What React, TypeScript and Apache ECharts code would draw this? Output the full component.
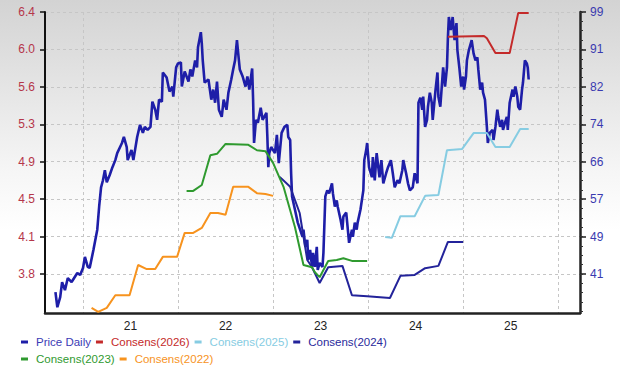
import React, { useEffect, useRef } from "react";
import * as echarts from "echarts";

// Price (left axis) — [decimal year, price]
const priceDaily: [number, number][] = [
  [2020.21, 3.62], [2020.23, 3.47], [2020.26, 3.57], [2020.28, 3.72], [2020.31, 3.64], [2020.34, 3.76],
  [2020.38, 3.72], [2020.44, 3.81], [2020.47, 3.79], [2020.5, 3.86], [2020.52, 3.97], [2020.55, 3.87],
  [2020.57, 3.86], [2020.61, 4.04], [2020.65, 4.24], [2020.67, 4.47], [2020.69, 4.66], [2020.71, 4.73],
  [2020.73, 4.83], [2020.75, 4.71], [2020.78, 4.78], [2020.81, 4.86], [2020.84, 4.93], [2020.86, 5.0],
  [2020.91, 5.1], [2020.93, 5.16], [2020.96, 5.06], [2020.97, 4.93], [2021.01, 5.03], [2021.03, 4.93],
  [2021.07, 5.16], [2021.1, 5.28], [2021.13, 5.2], [2021.15, 5.26], [2021.18, 5.23], [2021.21, 5.26],
  [2021.23, 5.51], [2021.26, 5.43], [2021.28, 5.33], [2021.3, 5.53], [2021.33, 5.51], [2021.34, 5.8],
  [2021.38, 5.75], [2021.41, 5.61], [2021.44, 5.66], [2021.45, 5.56], [2021.48, 5.85], [2021.5, 5.89],
  [2021.53, 5.9], [2021.54, 5.66], [2021.57, 5.81], [2021.61, 5.71], [2021.63, 5.83], [2021.65, 5.76],
  [2021.68, 5.92], [2021.7, 5.85], [2021.71, 6.05], [2021.74, 6.2], [2021.75, 6.09], [2021.76, 5.92],
  [2021.78, 5.7], [2021.82, 5.73], [2021.85, 5.53], [2021.87, 5.63], [2021.89, 5.5], [2021.91, 5.71],
  [2021.93, 5.43], [2021.96, 5.36], [2021.98, 5.53], [2022.01, 5.43], [2022.03, 5.6], [2022.06, 5.73],
  [2022.08, 5.83], [2022.1, 5.92], [2022.12, 6.12], [2022.13, 6.02], [2022.15, 5.83], [2022.18, 5.76],
  [2022.21, 5.66], [2022.23, 5.76], [2022.25, 5.63], [2022.28, 5.84], [2022.29, 5.53], [2022.3, 5.1],
  [2022.32, 5.33], [2022.34, 5.3], [2022.37, 5.45], [2022.39, 5.33], [2022.43, 5.4], [2022.44, 5.16],
  [2022.45, 4.86], [2022.46, 5.0], [2022.48, 5.06], [2022.5, 5.03], [2022.52, 5.0], [2022.54, 5.18],
  [2022.56, 4.9], [2022.59, 5.2], [2022.62, 5.26], [2022.65, 5.28], [2022.66, 5.16], [2022.68, 5.13],
  [2022.69, 4.8], [2022.7, 4.57], [2022.73, 4.44], [2022.76, 4.31], [2022.81, 4.17], [2022.82, 4.24],
  [2022.84, 4.07], [2022.86, 4.14], [2022.87, 3.94], [2022.89, 4.04], [2022.91, 3.87], [2022.92, 4.01],
  [2022.94, 3.87], [2022.96, 4.07], [2022.97, 3.84], [2022.99, 3.91], [2023.02, 3.87], [2023.03, 4.01],
  [2023.05, 4.57], [2023.07, 4.63], [2023.09, 4.6], [2023.12, 4.7], [2023.13, 4.6], [2023.15, 4.47],
  [2023.17, 4.53], [2023.18, 4.47], [2023.21, 4.34], [2023.23, 4.24], [2023.24, 4.37], [2023.27, 4.41],
  [2023.28, 4.31], [2023.3, 4.11], [2023.33, 4.24], [2023.34, 4.17], [2023.36, 4.31], [2023.38, 4.24],
  [2023.39, 4.31], [2023.42, 4.44], [2023.45, 4.63], [2023.46, 4.93], [2023.48, 5.03], [2023.49, 5.1],
  [2023.51, 4.86], [2023.54, 4.76], [2023.55, 4.96], [2023.57, 4.73], [2023.59, 5.0], [2023.62, 4.76],
  [2023.64, 4.93], [2023.66, 4.7], [2023.69, 4.8], [2023.71, 4.86], [2023.74, 4.93], [2023.76, 4.8],
  [2023.78, 4.66], [2023.81, 4.73], [2023.83, 4.7], [2023.86, 4.83], [2023.87, 4.93], [2023.9, 4.8],
  [2023.92, 4.7], [2023.94, 4.63], [2023.97, 4.66], [2023.99, 4.8], [2024.02, 4.7], [2024.03, 5.5],
  [2024.05, 5.55], [2024.07, 5.43], [2024.08, 5.56], [2024.1, 5.26], [2024.12, 5.33], [2024.13, 5.46],
  [2024.15, 5.6], [2024.17, 5.5], [2024.18, 5.33], [2024.21, 5.63], [2024.23, 5.8], [2024.24, 5.56],
  [2024.26, 5.46], [2024.29, 5.85], [2024.31, 5.66], [2024.33, 5.85], [2024.34, 6.15], [2024.35, 6.35],
  [2024.37, 6.22], [2024.39, 6.35], [2024.41, 6.12], [2024.43, 6.29], [2024.44, 6.02], [2024.46, 5.85],
  [2024.48, 5.66], [2024.5, 5.76], [2024.51, 5.63], [2024.53, 5.76], [2024.54, 5.92], [2024.56, 6.02],
  [2024.59, 6.12], [2024.61, 5.99], [2024.63, 5.92], [2024.65, 5.95], [2024.66, 5.83], [2024.68, 5.63],
  [2024.7, 5.7], [2024.71, 5.6], [2024.73, 5.53], [2024.75, 5.26], [2024.76, 5.1], [2024.78, 5.2],
  [2024.81, 5.23], [2024.82, 5.13], [2024.84, 5.26], [2024.86, 5.43], [2024.87, 5.36], [2024.89, 5.26],
  [2024.91, 5.33], [2024.92, 5.23], [2024.94, 5.3], [2024.96, 5.36], [2024.97, 5.23], [2024.99, 5.5],
  [2025.02, 5.63], [2025.03, 5.56], [2025.05, 5.66], [2025.07, 5.56], [2025.08, 5.46], [2025.1, 5.43],
  [2025.12, 5.63], [2025.13, 5.7], [2025.15, 5.92], [2025.17, 5.89], [2025.18, 5.85], [2025.19, 5.73],
];

// Consensus estimates (right axis) — [decimal year, value]
const consens2026: [number, number][] = [
  [2024.34, 93.5], [2024.72, 93.7], [2024.75, 93.2], [2024.84, 89.9], [2024.99, 89.9], [2025.08, 98.8], [2025.19, 98.8],
];
const consens2025: [number, number][] = [
  [2023.68, 49.2], [2023.75, 49.0], [2023.84, 53.8], [2023.99, 53.8], [2024.1, 58.3], [2024.24, 58.5], [2024.33, 68.4],
  [2024.49, 68.7], [2024.61, 72.2], [2024.75, 72.2], [2024.84, 69.1], [2024.99, 69.1], [2025.1, 73.1], [2025.19, 73.1],
];
const consens2024: [number, number][] = [
  [2022.57, 62.5], [2022.68, 60.3], [2022.78, 54.5], [2022.86, 44.1], [2022.91, 42.5], [2022.99, 39.0],
  [2023.08, 42.5], [2023.23, 42.8], [2023.33, 36.3], [2023.49, 36.1], [2023.73, 35.7], [2023.84, 40.6],
  [2023.99, 40.8], [2024.1, 42.3], [2024.24, 42.8], [2024.34, 48.1], [2024.5, 48.1],
];
const consens2023: [number, number][] = [
  [2021.59, 59.4], [2021.66, 59.4], [2021.75, 60.7], [2021.84, 67.3], [2021.91, 67.6], [2022.0, 69.8],
  [2022.24, 69.6], [2022.33, 68.4], [2022.42, 68.2], [2022.5, 65.6], [2022.61, 60.3], [2022.73, 51.4],
  [2022.82, 43.0], [2022.91, 42.5], [2022.94, 41.4], [2022.99, 40.3], [2023.08, 43.9], [2023.17, 44.1],
  [2023.24, 44.5], [2023.33, 43.9], [2023.42, 43.9], [2023.49, 43.9],
];
const consens2022: [number, number][] = [
  [2020.59, 33.5], [2020.66, 32.6], [2020.75, 33.5], [2020.84, 36.3], [2020.99, 36.3], [2021.08, 43.0],
  [2021.17, 42.1], [2021.26, 42.1], [2021.34, 44.8], [2021.49, 44.8], [2021.57, 50.1], [2021.66, 50.1],
  [2021.75, 51.2], [2021.84, 54.5], [2021.92, 54.5], [2022.0, 54.1], [2022.08, 60.3], [2022.24, 60.3],
  [2022.33, 58.9], [2022.42, 58.7], [2022.5, 58.3],
];

const leftTickLabels = ["3.8", "4.1", "4.5", "4.9", "5.3", "5.6", "6.0", "6.4"];
const rightTickLabels = ["41", "49", "57", "66", "74", "82", "91", "99"];
const yearLabels = ["21", "22", "23", "24", "25"];
const yearValues = [2021, 2022, 2023, 2024, 2025];
const gridYears = [2020.5, 2021.5, 2022.5, 2023.5, 2024.5, 2025.5];

const seriesNames = ["Price Daily", "Consens(2026)", "Consens(2025)", "Consens(2024)", "Consens(2023)", "Consens(2022)"];
const seriesColors = ["#1e1ea8", "#c42a2a", "#86cce2", "#23239a", "#2f9a2f", "#f7931e"];
const legendTextColors = ["#3b3bb5", "#c42a2a", "#86cce2", "#2a2a9c", "#2f9a2f", "#f7931e"];

const LEFT_MIN = 3.413, LEFT_MAX = 6.4, LEFT_FIRST = 3.8;
const RIGHT_MIN = 32.37, RIGHT_MAX = 99, RIGHT_FIRST = 41;
const leftStep = (LEFT_MAX - LEFT_FIRST) / 7;
const rightStep = (RIGHT_MAX - RIGHT_FIRST) / 7;
const leftTicks = leftTickLabels.map((_, i) => LEFT_FIRST + i * leftStep);
const rightTicks = rightTickLabels.map((_, i) => RIGHT_FIRST + i * rightStep);
const rightMinor: number[] = [];
for (let v = RIGHT_FIRST - rightStep; v < RIGHT_MAX; v += rightStep / 4) {
  if (v > RIGHT_MIN) rightMinor.push(v);
}

const FONT = "Liberation Sans, Arial, sans-serif";

function lookup(ticks: number[], labels: string[], v: number) {
  let best = 0;
  for (let i = 0; i < ticks.length; i++) if (Math.abs(ticks[i] - v) < Math.abs(ticks[best] - v)) best = i;
  return labels[best];
}

export default function App() {
  const ref = useRef<HTMLDivElement>(null);
  useEffect(() => {
    document.body.style.margin = "0";
    if (!ref.current) return;
    const chart = echarts.init(ref.current, null, { renderer: "svg" });
    const dataSets = [priceDaily, consens2026, consens2025, consens2024, consens2023, consens2022];
    const bg = new echarts.graphic.LinearGradient(0, 0, 0, 1, [
      { offset: 0, color: "#d3d3d3" },
      { offset: 0.45, color: "#f5f5f5" },
      { offset: 0.62, color: "#ffffff" },
      { offset: 1, color: "#ffffff" },
    ]);
    const legendBase = {
      left: 16,
      orient: "horizontal",
      itemWidth: 7,
      itemHeight: 3,
      itemGap: 5,
      icon: "rect",
      selectedMode: false,
      textStyle: { fontSize: 11.5, fontFamily: FONT, width: 80, padding: [0, 0, 0, 3] },
    };
    chart.setOption({
      animation: false,
      graphic: [
        { type: "rect", silent: true, z: -100, shape: { x: 0, y: 0, width: 620, height: 372 }, style: { fill: bg } },
      ],
      grid: { left: 45, right: 40, top: 12, bottom: 59, containLabel: false },
      legend: [
        {
          ...legendBase,
          top: 331,
          data: seriesNames.slice(0, 4).map((n, i) => ({ name: n, textStyle: { color: legendTextColors[i] } })),
        },
        {
          ...legendBase,
          top: 348,
          data: seriesNames.slice(4).map((n, i) => ({ name: n, textStyle: { color: legendTextColors[i + 4] } })),
        },
      ],
      xAxis: {
        type: "value",
        min: 2020.1,
        max: 2025.73,
        axisLine: { show: true, onZero: false, lineStyle: { color: "#222", width: 2.5 } },
        axisTick: { show: false, customValues: gridYears },
        axisLabel: {
          customValues: yearValues,
          formatter: (v: number) => lookup(yearValues, yearLabels, v),
          color: "#222",
          fontSize: 12,
          fontFamily: FONT,
          margin: 7,
        },
        splitLine: { show: true, lineStyle: { color: "#c6c6c6", type: [3, 3], width: 1 } },
      },
      yAxis: [
        {
          type: "value",
          position: "left",
          min: LEFT_MIN,
          max: LEFT_MAX,
          axisLine: { show: true, lineStyle: { color: "#111", width: 2 } },
          axisTick: { show: true, customValues: leftTicks, length: 5, lineStyle: { color: "#111", width: 1.5 } },
          axisLabel: {
            customValues: leftTicks,
            formatter: (v: number) => lookup(leftTicks, leftTickLabels, v),
            color: "#b5364a",
            fontSize: 12,
            fontFamily: FONT,
            margin: 10,
          },
          splitLine: { show: true, lineStyle: { color: "#c6c6c6", type: [3, 3], width: 1 } },
        },
        {
          type: "value",
          position: "right",
          min: RIGHT_MIN,
          max: RIGHT_MAX,
          axisLine: { show: true, lineStyle: { color: "#222", width: 2.5 } },
          axisTick: { show: true, customValues: rightTicks, length: 6, lineStyle: { color: "#222", width: 1.5 } },
          axisLabel: {
            customValues: rightTicks,
            formatter: (v: number) => lookup(rightTicks, rightTickLabels, v),
            color: "#3a3ab0",
            fontSize: 12,
            fontFamily: FONT,
            margin: 10,
          },
          splitLine: { show: false },
        },
        {
          type: "value",
          position: "right",
          offset: 0,
          min: RIGHT_MIN,
          max: RIGHT_MAX,
          axisLine: { show: false },
          axisTick: { show: true, customValues: rightMinor, length: 3, lineStyle: { color: "#333", width: 1 } },
          axisLabel: { show: false },
          splitLine: { show: false },
        },
      ],
      series: seriesNames.map((name, i) => ({
        name,
        type: "line",
        yAxisIndex: i === 0 ? 0 : 1,
        data: dataSets[i],
        symbol: "none",
        color: seriesColors[i],
        lineStyle: { color: seriesColors[i], width: i === 0 ? 2.6 : 2 },
        z: i === 0 ? 2 : 3,
      })),
    });
    return () => chart.dispose();
  }, []);
  return <div ref={ref} style={{ width: 620, height: 372 }} />;
}
